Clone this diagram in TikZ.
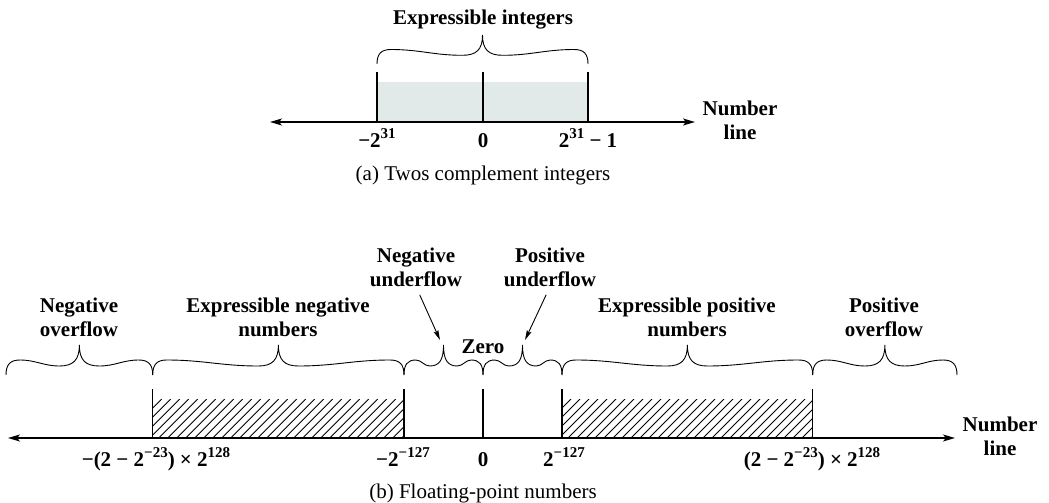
\documentclass[tikz,border=0pt]{standalone}
\usepackage{fontspec}
\setmainfont{Liberation Serif}
\usetikzlibrary{arrows.meta}
\definecolor{shadec}{HTML}{E2E9E9}
\newcommand{\sps}[1]{\raisebox{0.4em}{\fontsize{15}{15}\selectfont #1}}
% wavy brace: x1, x2, end y, tip y (y grows downward)
\newcommand{\wbrace}[4]{%
  \pgfmathsetmacro{\bH}{(#2-#1)/2}%
  \pgfmathsetmacro{\bM}{(#1+#2)/2}%
  \pgfmathsetmacro{\bD}{#3-#4}%
  \pgfmathsetmacro{\bR}{min(14,0.3*\bH)}%
  \pgfmathsetmacro{\bS}{min(20,0.35*\bH)}%
  \pgfmathsetmacro{\bL}{\bH-\bR-\bS}%
  \pgfmathsetmacro{\yh}{#3-0.5*\bD}%
  \pgfmathsetmacro{\ys}{#3-0.3*\bD}%
  \draw[bracestyle] (#1,#3) .. controls (#1,{#3-0.35*\bD}) and ({#1+0.3*\bR},\yh) .. ({#1+\bR},\yh)
    .. controls ({#1+\bR+0.4*\bL},\yh) and ({\bM-\bS-0.4*\bL},\ys) .. ({\bM-\bS},\ys)
    .. controls ({\bM-0.3*\bS},\ys) and (\bM,{\ys-0.2*\bD}) .. (\bM,#4)
    .. controls (\bM,{\ys-0.2*\bD}) and ({\bM+0.3*\bS},\ys) .. ({\bM+\bS},\ys)
    .. controls ({\bM+\bS+0.4*\bL},\ys) and ({#2-\bR-0.4*\bL},\yh) .. ({#2-\bR},\yh)
    .. controls ({#2-0.3*\bR},\yh) and (#2,{#3-0.35*\bD}) .. (#2,#3);%
}
% hatched band: x1, x2 (from y=399 to y=438)
\newcommand{\hband}[2]{%
  \begin{scope}
    \clip (#1,399) rectangle (#2,438);
    \foreach \k in {0,...,32} \draw[hatchline] ({#1-39+\k*9},438) -- ++(39,-39);
  \end{scope}%
}
\begin{document}
\begin{tikzpicture}[x=1pt,y=-1pt,
  lbl/.style={font=\fontsize{21}{24}\selectfont\bfseries, inner sep=0pt, align=center},
  captxt/.style={font=\fontsize{21}{24}\selectfont, inner sep=0pt},
  axis/.style={line width=1.6pt, {Stealth[length=12pt,width=7pt,inset=3pt]}-{Stealth[length=12pt,width=7pt,inset=3pt]}},
  tickline/.style={line width=1.3pt},
  bracestyle/.style={line width=0.9pt},
  hatchline/.style={line width=0.9pt},
  pointer/.style={line width=0.9pt,-{Stealth[length=10pt,width=5pt,inset=2pt]}}]
\useasboundingbox (0,0) rectangle (1049,503);

% ---------- (a) ----------
\coordinate (aL) at (270,122);
\coordinate (aR) at (695,122);
\coordinate (t1) at (377,122);
\coordinate (t2) at (483,122);
\coordinate (t3) at (588,122);
\fill[shadec] (377,82) rectangle (588,122);
\draw[tickline] (t1) -- ++(0,-50);
\draw[tickline] (t2) -- ++(0,-50);
\draw[tickline] (t3) -- ++(0,-50);
\draw[axis] (aL) -- (aR);
\wbrace{377}{588}{64}{35}
\node[lbl,anchor=base] (ei) at (483,25) {Expressible integers};
\node[lbl,anchor=base] (la1) at (377,147) {−2\sps{31}};
\node[lbl,anchor=base] (la2) at (483,147) {0};
\node[lbl,anchor=base] (la3) at (588,147) {2\sps{31} − 1};
\node[lbl] (nla) at (740,120.5) {Number\\line};
\node[captxt,anchor=base] (capa) at (483,180) {(a) Twos complement integers};

% ---------- (b) ----------
\coordinate (bL) at (8,438);
\coordinate (bR) at (955,438);
\coordinate (s1) at (152.7,438);
\coordinate (s2) at (404,438);
\coordinate (s3) at (483,438);
\coordinate (s4) at (562,438);
\coordinate (s5) at (812.7,438);
\hband{152.7}{404}
\hband{562}{812.7}
\foreach \s in {s1,s2,s3,s4,s5} \draw[tickline] (\s) -- ++(0,-49);
\draw[axis] (bL) -- (bR);

\wbrace{6}{152.7}{375}{345}
\wbrace{152.7}{404}{375}{345}
\wbrace{404}{483}{375}{345}
\wbrace{483}{562}{375}{345}
\wbrace{562}{812.7}{375}{345}
\wbrace{812.7}{957}{375}{345}

\node[lbl] (nov) at (79,317.5) {Negative\\overflow};
\node[lbl] (enn) at (278,317.5) {Expressible negative\\numbers};
\node[lbl] (nuf) at (416,267) {Negative\\underflow};
\node[lbl,anchor=base] (zero) at (483,353) {Zero};
\node[lbl] (puf) at (550,267) {Positive\\underflow};
\node[lbl] (epn) at (687,317.5) {Expressible positive\\numbers};
\node[lbl] (pov) at (884,317.5) {Positive\\overflow};
\node[lbl] (nlb) at (1000,436.5) {Number\\line};

\coordinate (nutip) at (440,340);
\coordinate (putip) at (525,340);
\draw[pointer,shorten <=9pt] (nuf.south) -- (nutip);
\draw[pointer,shorten <=9pt] (puf.south) -- (putip);

\node[lbl,anchor=base] (v1) at (156,466) {−(2 − 2\sps{−23}) × 2\sps{128}};
\node[lbl,anchor=base] (v2) at (403,466) {−2\sps{−127}};
\node[lbl,anchor=base] (v3) at (483,466) {0};
\node[lbl,anchor=base] (v4) at (564,466) {2\sps{−127}};
\node[lbl,anchor=base] (v5) at (812,466) {(2 − 2\sps{−23}) × 2\sps{128}};
\node[captxt,anchor=base] (capb) at (483,498) {(b) Floating-point numbers};
\end{tikzpicture}
\end{document}
